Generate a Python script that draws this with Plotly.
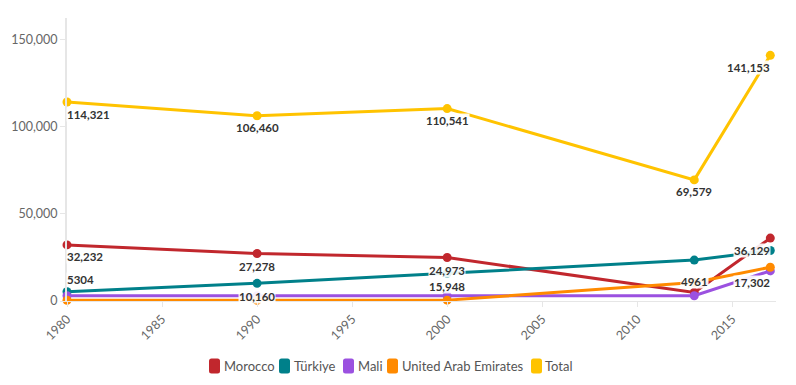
import plotly.graph_objects as go

years = [1980, 1990, 2000, 2013, 2017]
morocco = [32232, 27278, 24973, 4961, 36129]
turkiye = [5304, 10160, 15948, 23500, 29000]
mali = [3000, 3000, 3000, 3000, 17302]
uae = [400, 400, 500, 10600, 19400]
total = [114321, 106460, 110541, 69579, 141153]

names = ["Morocco", "Türkiye", "Mali", "United Arab Emirates", "Total"]
colors = ["#c1272d", "#00808a", "#9b51e0", "#ff8a00", "#ffc300"]
series = [morocco, turkiye, mali, uae, total]

# labels: (series index, point index, xanchor, yshift)
labels = [
    (4, 0, "left", -12), (4, 1, "center", -12), (4, 2, "center", -12),
    (4, 3, "center", -12), (4, 4, "right", -12),
    (0, 0, "left", -12), (0, 1, "center", -13), (0, 2, "center", -13),
    (0, 3, "center", 11), (0, 4, "right", -12),
    (1, 0, "left", 12), (1, 1, "center", -13), (1, 2, "center", -13),
    (2, 4, "right", -12),
]

# plot box in pixels (for the custom legend placement)
L, R, T, B = 67, 776, 18, 301
legend_sq_px = [209, 279, 343, 387, 531]
legend_tx_px = [223, 293, 357, 401, 544]
legend_y_px = 366

fig = go.Figure()
for n, c, s in zip(names, colors, series):
    fig.add_trace(go.Scatter(x=years, y=s, mode="lines+markers", name=n,
                             line=dict(color=c, width=3),
                             marker=dict(color=c, size=9),
                             showlegend=False, cliponaxis=False,
                             hoverinfo="skip"))

lab_font = dict(family="Lato, sans-serif", size=11.5, color="#333333")
for si, pi, xa, ys in labels:
    v = series[si][pi]
    txt = f"<b>{v:,}</b>" if v >= 10000 else f"<b>{v}</b>"
    xs0 = {"left": -1, "center": 0, "right": 1}[xa]
    fig.add_annotation(x=years[pi], y=v, text=txt, showarrow=False,
                       xanchor=xa, yanchor="middle", xshift=xs0, yshift=ys,
                       bgcolor="rgba(255,255,255,0.9)", borderpad=0,
                       font=lab_font)

def px_x(p):
    return (p - L) / (R - L)

def px_y(p):
    return (B - p) / (B - T)

rr = "M -5.5,-5 Q -5.5,-7.5 -3,-7.5 L 3,-7.5 Q 5.5,-7.5 5.5,-5 L 5.5,5 Q 5.5,7.5 3,7.5 L -3,7.5 Q -5.5,7.5 -5.5,5 Z"
for n, c, sx, tx in zip(names, colors, legend_sq_px, legend_tx_px):
    fig.add_shape(type="path", xref="paper", yref="paper",
                  xsizemode="pixel", ysizemode="pixel",
                  xanchor=px_x(sx + 5.5), yanchor=px_y(legend_y_px),
                  path=rr, fillcolor=c, line=dict(width=0))
    fig.add_annotation(x=px_x(tx), y=px_y(legend_y_px), xref="paper",
                       yref="paper", xanchor="left", yanchor="middle",
                       showarrow=False, text=n, borderpad=0,
                       font=dict(family="Lato, sans-serif", size=13,
                                 color="#555555"))

fig.update_layout(
    width=796, height=385,
    margin=dict(l=L, r=796 - R, t=T, b=385 - B),
    paper_bgcolor="white", plot_bgcolor="white",
    font=dict(family="Lato, sans-serif", color="#666666", size=13),
    showlegend=False,
)
fig.update_xaxes(range=[1980, 2017.3], tick0=1980, dtick=5, tickangle=-45,
                 showgrid=False, zeroline=False, showline=True, automargin=False,
                 linecolor="#e6e6e6", linewidth=1, ticks="outside",
                 ticklen=5, tickcolor="#e6e6e6",
                 tickfont=dict(size=12.5, color="#666666"))
fig.update_yaxes(range=[0, 162600], tickvals=[0, 50000, 100000, 150000],
                 tickformat=",", showgrid=False, zeroline=False, showline=True,
                 automargin=False,
                 linecolor="#e6e6e6", linewidth=2, ticks="outside", ticklen=5,
                 tickcolor="#e6e6e6", tickfont=dict(size=12.5, color="#666666"))

fig.write_html("out.html", config={"displayModeBar": False},
               post_script="document.body.style.margin='0';")
